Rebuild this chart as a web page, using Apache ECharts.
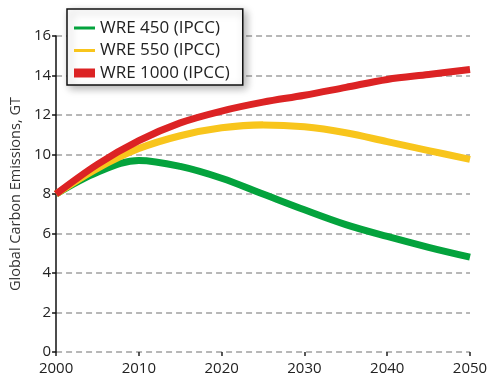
<!DOCTYPE html>
<html><head><meta charset="utf-8">
<script src="https://cdn.jsdelivr.net/npm/echarts@6/dist/echarts.min.js"></script>
<style>html,body{margin:0;padding:0;background:#fff}#c{width:494px;height:383px}</style>
</head><body><div id="c"></div>
<script>
const years = [2000, 2005, 2010, 2015, 2020, 2025, 2030, 2035, 2040, 2045, 2050];
const wre450 = [8.0, 9.1, 9.7, 9.4, 8.8, 8.0, 7.2, 6.45, 5.85, 5.3, 4.8];
const wre550 = [8.0, 9.3, 10.3, 10.95, 11.35, 11.5, 11.4, 11.1, 10.65, 10.2, 9.75];
const wre1000 = [8.0, 9.5, 10.7, 11.6, 12.2, 12.65, 13.0, 13.4, 13.8, 14.05, 14.3];
const names = ['WRE 450 (IPCC)', 'WRE 550 (IPCC)', 'WRE 1000 (IPCC)'];
const colors = ['#04a33d', '#f8c51c', '#dc2324'];
const yTicks = [0, 2, 4, 6, 8, 10, 12, 14, 16];
const xTicks = [2000, 2010, 2020, 2030, 2040, 2050];
const FONT = 'Open Sans';

const chart = echarts.init(document.getElementById('c'), null, {renderer: 'canvas'});
const mk = (i, vals) => ({
  name: names[i], type: 'line', smooth: 0.35, showSymbol: false, symbol: 'none',
  data: years.map((y, k) => [y, vals[k]]),
  lineStyle: {color: colors[i], width: 7, cap: 'butt'},
  itemStyle: {color: colors[i]}, z: 3 + i
});
const thin = 'path://M0,0M0,10M0,3.5L21,3.5L21,6.5L0,6.5Z';
const thick = 'path://M0,0M0,10M0,0.5L21,0.5L21,9.5L0,9.5Z';
chart.setOption({
  animation: false,
  grid: {left: 52, right: 24, top: 36, bottom: 31},
  legend: {
    orient: 'vertical', left: 67, top: 9,
    data: [
      {name: names[0], icon: thin},
      {name: names[1], icon: thin},
      {name: names[2], icon: thick}
    ],
    itemWidth: 21, itemHeight: 10, itemGap: 2.5,
    padding: [9, 13, 2, 7],
    backgroundColor: '#fff', borderColor: '#111', borderWidth: 1.5,
    shadowBlur: 8, shadowColor: 'rgba(0,0,0,0.3)', shadowOffsetX: 3, shadowOffsetY: 3,
    textStyle: {fontFamily: FONT, fontSize: 17, color: '#222', lineHeight: 20}
  },
  xAxis: {
    type: 'value', min: 2000, max: 2050, interval: 10,
    axisLine: {show: false},
    axisTick: {show: true, length: 4, lineStyle: {color: '#222', width: 1.5}},
    splitLine: {show: false},
    axisLabel: {fontFamily: FONT, fontSize: 15, color: '#222', margin: 9,
      formatter: v => xTicks.includes(v) ? String(v) : ''}
  },
  yAxis: {
    type: 'value', min: 0, max: 16, interval: 2,
    name: 'Global Carbon Emissions, GT', nameLocation: 'middle', nameGap: 28, nameRotate: 90,
    nameTextStyle: {fontFamily: FONT, fontSize: 14.5, color: '#333'},
    axisLine: {show: true, lineStyle: {color: '#111', width: 1.5}},
    axisTick: {show: true, length: 4, lineStyle: {color: '#111', width: 1.5}},
    axisLabel: {fontFamily: FONT, fontSize: 15, color: '#222', margin: 5,
      formatter: v => yTicks.includes(v) ? String(v) : ''},
    splitLine: {show: true, lineStyle: {color: '#a0a0a0', width: 1.5, type: [6, 4]}}
  },
  series: [mk(0, wre450), mk(1, wre550), mk(2, wre1000)]
});
</script></body></html>
